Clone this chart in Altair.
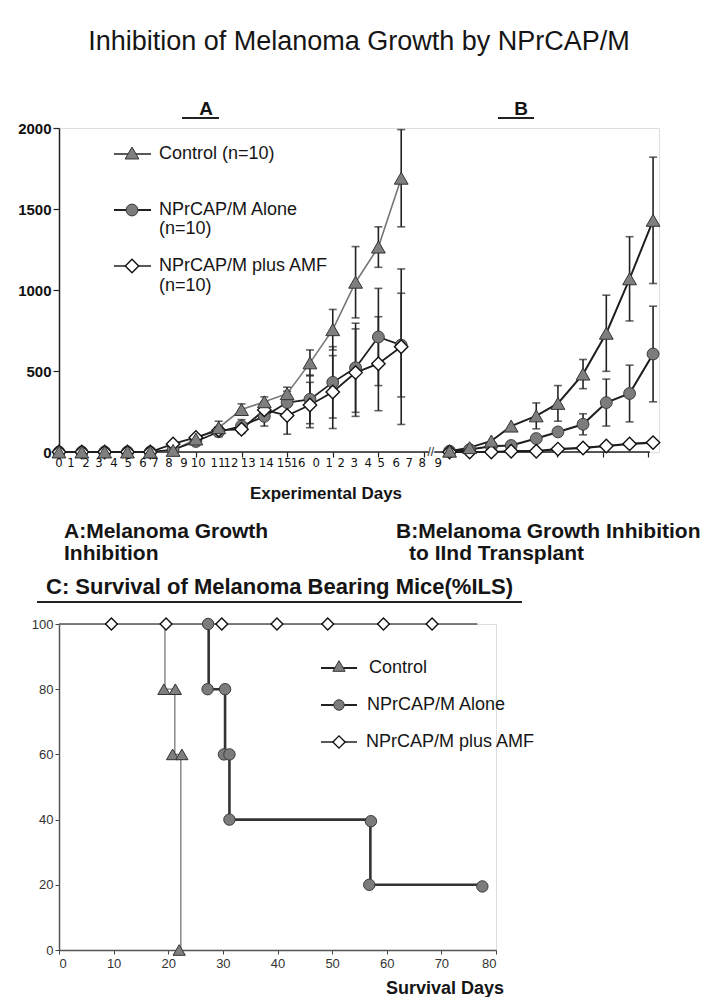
import altair as alt
import pandas as pd

# ---------------- data: panels A and B (tumour size) ----------------
SER = ["Control", "NPrCAP/M Alone", "NPrCAP/M plus AMF"]

a_pos = [0, 1, 2, 3, 4, 5, 6, 7, 8, 9, 10, 11, 12, 13, 14, 15]
a_ctrl = [0, 0, 0, 0, 0, 10, 80, 150, 262, 310, 360, 550, 755, 1048, 1265, 1690]
a_ctrl_sd = [0, 0, 0, 0, 0, 0, 20, 40, 35, 30, 40, 80, 125, 220, 125, 300]
a_alone = [0, 0, 0, 0, 0, 15, 65, 125, 160, 220, 305, 325, 430, 520, 710, 660]
a_alone_sd = [0, 0, 0, 0, 0, 0, 15, 30, 40, 60, 70, 150, 220, 275, 300, 320]
a_amf = [0, 0, 0, 0, 0, 50, 90, 135, 140, 260, 225, 290, 370, 490, 545, 650]
a_amf_sd = [0, 0, 0, 0, 0, 0, 10, 20, 25, 50, 115, 140, 225, 270, 290, 480]

b_pos = [17.12, 18.0, 18.95, 19.82, 20.92, 21.87, 22.97, 23.99, 25.01, 26.04]
b_ctrl = [5, 27, 68, 160, 223, 300, 481, 733, 1069, 1430]
b_ctrl_sd = [0, 0, 0, 0, 80, 110, 90, 235, 260, 390]
b_alone = [5, 15, 35, 40, 83, 124, 171, 305, 361, 605]
b_alone_sd = [0, 0, 0, 0, 0, 0, 65, 145, 175, 295]
b_amf = [0, 0, 0, 5, 5, 18, 25, 37, 50, 58]
b_amf_sd = [0, 0, 0, 0, 0, 0, 0, 0, 0, 0]

# x-axis tick marks and (hand-lettered) day labels
a_ticks = [0, 1, 2, 3, 4, 5, 6, 7, 8, 9, 10, 11, 12, 13, 14, 15, 16]
b_ticks = [20.83, 21.84, 22.81, 23.86, 24.78, 25.83]
day_lab_pos = [0, 0.53, 1.18, 1.75, 2.41, 3.03, 3.68, 4.21, 4.82, 5.48, 6.10,
               6.97, 7.54, 8.29, 9.08, 9.87, 10.48, 11.27, 11.84, 12.37, 12.94,
               13.55, 14.12, 14.78, 15.35, 15.92, 16.62]
day_lab_txt = ["0", "1", "2", "3", "4", "5", "6", "7", "8", "9", "10", "11", "12",
               "13", "14", "15", "16", "0", "1", "2", "3", "4", "5", "6", "7", "8", "9"]
y_ticks_top = [0, 500, 1000, 1500, 2000]

# ---------------- data: panel C (survival) ----------------
c_ctrl_day = [19.4, 19.4, 21.2, 21.2, 22.3, 22.3]
c_ctrl_pct = [100, 80, 80, 60, 60, 0]
c_ctrl_mk_day = [19.2, 21.3, 20.8, 22.5, 22.0]
c_ctrl_mk_pct = [80, 80, 60, 60, 0]

c_alone_day = [27.4, 27.4, 30.4, 30.4, 31.2, 31.2, 57.0, 57.0, 77.5]
c_alone_pct = [100, 80, 80, 60, 60, 40, 40, 20, 20]
c_alone_mk_day = [27.3, 27.2, 30.4, 30.2, 31.2, 31.2, 57.1, 56.8, 77.5]
c_alone_mk_pct = [100, 80, 80, 60, 60, 40, 39.5, 20, 19.5]

c_amf_day = [0, 76.6]
c_amf_pct = [100, 100]
c_amf_mk_day = [9.6, 19.6, 29.8, 39.9, 49.2, 59.4, 68.3]
c_amf_mk_pct = [100, 100, 100, 100, 100, 100, 100]

# ---------------- helpers ----------------
FONT = "Liberation Sans"
NARROW = "Liberation Sans Narrow, DejaVu Sans Condensed, Liberation Sans"
dummy = pd.DataFrame({"d": [0]})


def txt(s, x, y, size, bold=False, align="left", baseline="alphabetic", font=FONT, color="#151515"):
    return alt.Chart(dummy).mark_text(
        text=s, font=font, fontSize=size, fontWeight="bold" if bold else "normal",
        align=align, baseline=baseline, color=color
    ).encode(x=alt.value(x), y=alt.value(y))


def hline(x1, x2, y, width=1.5, color="#222"):
    return alt.Chart(dummy).mark_rule(color=color, strokeWidth=width).encode(
        x=alt.value(x1), x2=alt.value(x2), y=alt.value(y))


def sym(x, y, shape, fill, stroke, size, sw=1.0):
    return alt.Chart(dummy).mark_point(shape=shape, filled=True, fill=fill, stroke=stroke,
                                       strokeWidth=sw, size=size, opacity=1).encode(
        x=alt.value(x), y=alt.value(y))


STYLE = {
    "Control": dict(shape="triangle-up", fill="#7f7f7f", stroke="#333333", size=190, sw=1.0),
    "NPrCAP/M Alone": dict(shape="circle", fill="#7c7c7c", stroke="#3a3a3a", size=140, sw=1.0),
    "NPrCAP/M plus AMF": dict(shape="diamond", fill="#ffffff", stroke="#111111", size=180, sw=1.4),
}

# ---------------- top chart (A and B) ----------------
TW, TH = 600, 324
xs = alt.Scale(domain=[0, 26.3], nice=False, zero=False)
ys = alt.Scale(domain=[0, 2000], nice=False)
x_axis = alt.Axis(values=a_ticks + b_ticks, labels=False, domain=False, ticks=True,
                  tickSize=5, tickColor="#222", tickWidth=1.2, title=None, grid=False)
y_axis = alt.Axis(values=y_ticks_top, format="d", labelFont=FONT, labelFontSize=15,
                  labelFontWeight="bold", labelColor="#111", tickSize=6, labelPadding=2,
                  domainColor="#222", domainWidth=1.5, tickColor="#222", tickWidth=1.2,
                  title=None, grid=False)


def X(f):
    return alt.X(f, scale=xs, axis=x_axis)


def Y(f):
    return alt.Y(f, scale=ys, axis=y_axis)


def mk(pos, vals, sds, series, panel):
    return pd.DataFrame({"pos": pos, "val": vals, "sd": sds, "series": series,
                         "grp": series + " " + panel})


top_df = pd.concat([
    mk(a_pos, a_ctrl, a_ctrl_sd, SER[0], "A"),
    mk(a_pos, a_alone, a_alone_sd, SER[1], "A"),
    mk(a_pos, a_amf, a_amf_sd, SER[2], "A"),
    mk(b_pos, b_ctrl, b_ctrl_sd, SER[0], "B"),
    mk(b_pos, b_alone, b_alone_sd, SER[1], "B"),
    mk(b_pos, b_amf, b_amf_sd, SER[2], "B"),
], ignore_index=True)
top_df["lo"] = (top_df["val"] - top_df["sd"]).clip(lower=0)
top_df["hi"] = top_df["val"] + top_df["sd"]
err_df = top_df[top_df["sd"] > 0]
cap_df = pd.concat([err_df.assign(cap=err_df["lo"]), err_df.assign(cap=err_df["hi"])],
                   ignore_index=True)
lab_df = pd.DataFrame({"pos": day_lab_pos, "txt": day_lab_txt})

grp_dom = [s + " " + p for p in ["A", "B"] for s in SER]
grp_col = ["#777777", "#1e1e1e", "#1e1e1e", "#1e1e1e", "#1e1e1e", "#1e1e1e"]
grp_w = [1.6, 2.2, 1.5, 2.0, 2.2, 1.5]

anchor = alt.Chart(dummy).mark_rule(opacity=0, strokeOpacity=0).encode(
    x=alt.value(-50), x2=alt.value(-50), y=alt.value(-119), y2=alt.value(-110))

base_marks = alt.Chart(top_df).mark_point(opacity=0).encode(x=X("pos:Q"), y=Y("val:Q"))

axis_a = alt.Chart(dummy).mark_rule(color="#222", strokeWidth=1.5).encode(
    x=alt.datum(0, scale=xs), x2=alt.datum(16.2), y=alt.datum(0, scale=ys))
axis_b = alt.Chart(dummy).mark_rule(color="#222", strokeWidth=1.5).encode(
    x=alt.datum(16.45, scale=xs), x2=alt.datum(25.9), y=alt.datum(0, scale=ys))
brk = alt.Chart(dummy).mark_text(text="//", font=FONT, fontSize=12, color="#222",
                                 align="center", baseline="middle").encode(
    x=alt.datum(16.3, scale=xs), y=alt.datum(0, scale=ys))

day_labels = alt.Chart(lab_df).mark_text(font=NARROW, fontSize=13, color="#111",
                                         baseline="middle", align="center").encode(
    x=X("pos:Q"), y=alt.value(TH + 11), text="txt:N")

err_rules = alt.Chart(err_df).mark_rule(color="#222", strokeWidth=1.6).encode(
    x=X("pos:Q"), y=Y("lo:Q"), y2="hi:Q")
err_caps = alt.Chart(cap_df).mark_tick(orient="horizontal", size=8, thickness=1.6,
                                       color="#222").encode(x=X("pos:Q"), y=Y("cap:Q"))

lines = alt.Chart(top_df).mark_line().encode(
    x=X("pos:Q"), y=Y("val:Q"), detail="grp:N",
    color=alt.Color("grp:N", scale=alt.Scale(domain=grp_dom, range=grp_col), legend=None),
    strokeWidth=alt.StrokeWidth("grp:N", scale=alt.Scale(domain=grp_dom, range=grp_w),
                                legend=None))


def pts(series):
    st = STYLE[series]
    return alt.Chart(top_df[top_df["series"] == series]).mark_point(
        shape=st["shape"], filled=True, fill=st["fill"], stroke=st["stroke"],
        strokeWidth=st["sw"], size=st["size"], opacity=1).encode(x=X("pos:Q"), y=Y("val:Q"))


legend_a = [
    hline(55, 92, 26, 1.6), sym(73, 25, **STYLE[SER[0]]),
    txt("Control (n=10)", 100, 26, 18, baseline="middle"),
    hline(55, 92, 82, 2.0), sym(73, 82, **STYLE[SER[1]]),
    txt("NPrCAP/M  Alone", 100, 82, 18, baseline="middle"),
    txt("(n=10)", 100, 101, 18, baseline="middle"),
    hline(55, 92, 138, 1.4), sym(73, 138, **STYLE[SER[2]]),
    txt("NPrCAP/M plus AMF", 100, 138, 18, baseline="middle"),
    txt("(n=10)", 100, 158, 18, baseline="middle"),
]

top_text = [
    txt("Inhibition of Melanoma Growth by NPrCAP/M", 300, -78, 27, align="center"),
    txt("A", 147, -13, 19, bold=True, align="center"),
    hline(123, 160, -10, 2.0),
    txt("B", 462, -13, 19, bold=True, align="center"),
    hline(439, 475, -10, 2.0),
    txt("Experimental Days", 267, 371, 17, bold=True, align="center"),
    txt("A:Melanoma Growth", 5, 410, 21, bold=True),
    txt("Inhibition", 5, 432, 21, bold=True),
    txt("B:Melanoma Growth Inhibition", 337, 410, 21, bold=True),
    txt("to IInd Transplant", 350, 432, 21, bold=True),
]

top = alt.layer(
    anchor, base_marks, axis_a, axis_b, brk, day_labels, err_rules, err_caps, lines,
    pts(SER[1]), pts(SER[2]), pts(SER[0]), *legend_a, *top_text
).properties(width=TW, height=TH)

# ---------------- bottom chart (C) ----------------
BW, BH = 437, 326
bxs = alt.Scale(domain=[0, 80], nice=False)
bys = alt.Scale(domain=[0, 100], nice=False)
bx_axis = alt.Axis(values=[0, 10, 20, 30, 40, 50, 60, 70, 80], labelFont=FONT, labelFontSize=13,
                   labelColor="#333", tickSize=4, tickColor="#444", domainColor="#555",
                   domainWidth=1.5, title=None, grid=False, labelPadding=3)
by_axis = alt.Axis(values=[0, 20, 40, 60, 80, 100], labelFont=FONT, labelFontSize=13,
                   labelColor="#333", tickSize=4, tickColor="#444", domainColor="#555",
                   domainWidth=1.5, title=None, grid=False, labelPadding=2)


def BX(f):
    return alt.X(f, scale=bxs, axis=bx_axis)


def BY(f):
    return alt.Y(f, scale=bys, axis=by_axis)


def path(days, pcts, series):
    return pd.DataFrame({"day": days, "pct": pcts, "series": series,
                         "seq": list(range(len(days)))})


def surv_line(df, color, width):
    return alt.Chart(df).mark_line(color=color, strokeWidth=width).encode(
        x=BX("day:Q"), y=BY("pct:Q"), order="seq:Q")


def surv_pts(days, pcts, series, size):
    st = STYLE[series]
    df = pd.DataFrame({"day": days, "pct": pcts})
    return alt.Chart(df).mark_point(shape=st["shape"], filled=True, fill=st["fill"],
                                    stroke=st["stroke"], strokeWidth=st["sw"], size=size,
                                    opacity=1).encode(x=BX("day:Q"), y=BY("pct:Q"))


legend_c = [
    hline(262, 298, 44, 2.0), sym(280, 42, "triangle-up", "#7f7f7f", "#333333", 150),
    txt("Control", 310, 44, 18, baseline="middle"),
    hline(262, 298, 81, 2.0), sym(280, 81, "circle", "#7c7c7c", "#3a3a3a", 110),
    txt("NPrCAP/M Alone", 308, 81, 18, baseline="middle"),
    hline(262, 298, 118, 1.5), sym(280, 118, "diamond", "#ffffff", "#111111", 150, 1.4),
    txt("NPrCAP/M plus AMF", 307, 118, 18, baseline="middle"),
]

bottom_text = [
    txt("C: Survival of Melanoma Bearing Mice(%ILS)", -13, -30, 22, bold=True),
    hline(-22, 463, -22, 2.0),
    txt("Survival Days", 386, 370, 18, bold=True, align="center"),
]

bottom = alt.layer(
    surv_line(path(c_amf_day, c_amf_pct, SER[2]), "#555555", 1.5),
    surv_line(path(c_ctrl_day, c_ctrl_pct, SER[0]), "#777777", 1.3),
    surv_line(path(c_alone_day, c_alone_pct, SER[1]), "#333333", 2.6),
    surv_pts(c_amf_mk_day, c_amf_mk_pct, SER[2], 140),
    surv_pts(c_alone_mk_day, c_alone_mk_pct, SER[1], 130),
    surv_pts(c_ctrl_mk_day, c_ctrl_mk_pct, SER[0], 150),
    *legend_c, *bottom_text
).properties(width=BW, height=BH)

chart = alt.vconcat(top, bottom, spacing=172, bounds="flush").properties(
    padding={"left": 0, "top": 0, "right": 0, "bottom": 0}
).configure_view(stroke=None).configure(background="white")

chart.save("out.html", embed_options={"renderer": "svg", "actions": False})
